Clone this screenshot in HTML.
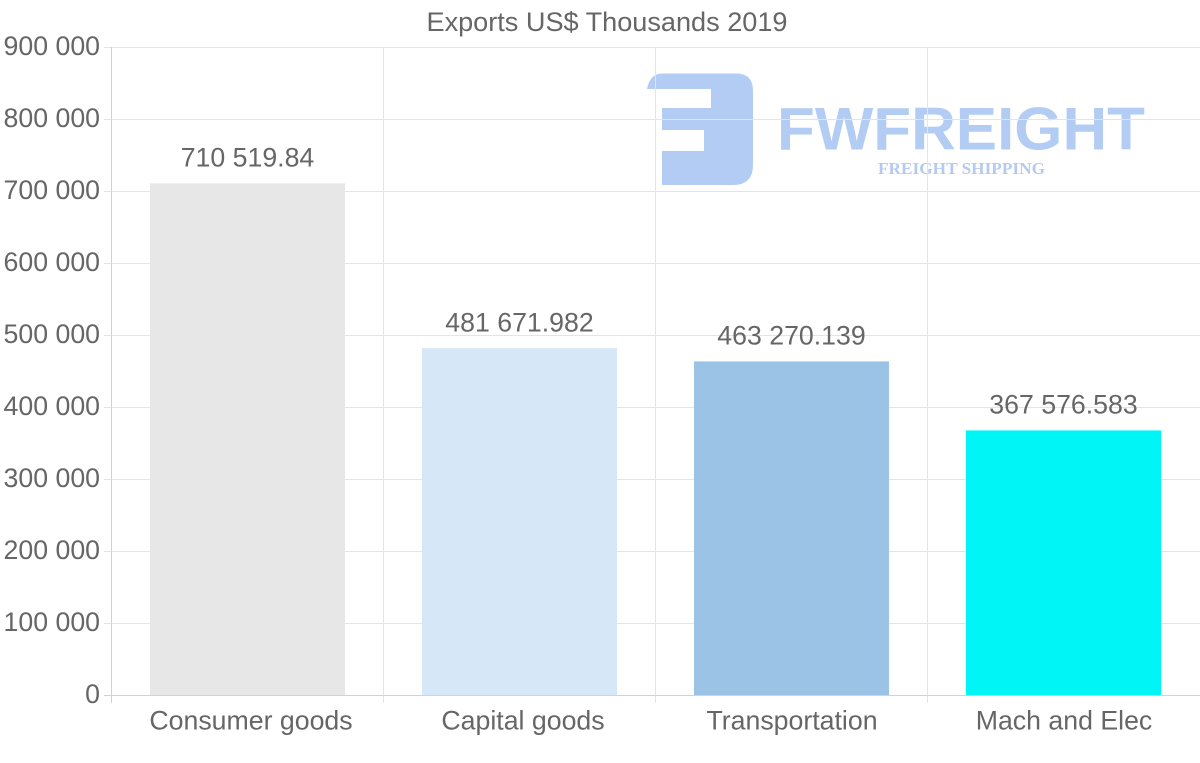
<!DOCTYPE html>
<html><head><meta charset="utf-8"><style>
html,body{margin:0;padding:0;background:#fff;}
svg{display:block;}
text{font-family:"Liberation Sans",Arial,sans-serif;fill:#666;}
</style></head><body>
<svg width="1200" height="763" viewBox="0 0 1200 763" xmlns="http://www.w3.org/2000/svg">
<rect width="1200" height="763" fill="#fff"/>
<!-- logo -->
<path d="M647 89 Q650 73.5 662 73.5 L736 73.5 Q753 73.5 753 91 L753 165 Q753 185 733 185 L662 185 L662 151 L704 151 L704 130 L662 130 L662 108 L711 108 L711 89 Z" fill="#b2ccf3"/>
<text x="777" y="149.5" font-size="60" font-weight="bold" textLength="368" lengthAdjust="spacingAndGlyphs" style="fill:#b2ccf3">FWFREIGHT</text>
<text x="878" y="174" font-size="17" font-weight="bold" textLength="167" lengthAdjust="spacingAndGlyphs" style="font-family:'Liberation Serif',serif;fill:#b4caf0">FREIGHT SHIPPING</text>
<!-- grid -->
<g stroke="#e4e4e4" stroke-width="1">
<line x1="104" y1="47.5" x2="1200" y2="47.5"/>
<line x1="104" y1="119.5" x2="1200" y2="119.5"/>
<line x1="104" y1="191.5" x2="1200" y2="191.5"/>
<line x1="104" y1="263.5" x2="1200" y2="263.5"/>
<line x1="104" y1="335.5" x2="1200" y2="335.5"/>
<line x1="104" y1="407.5" x2="1200" y2="407.5"/>
<line x1="104" y1="479.5" x2="1200" y2="479.5"/>
<line x1="104" y1="551.5" x2="1200" y2="551.5"/>
<line x1="104" y1="623.5" x2="1200" y2="623.5"/>
<line x1="383.5" y1="47" x2="383.5" y2="703"/>
<line x1="655.5" y1="47" x2="655.5" y2="703"/>
<line x1="927.5" y1="47" x2="927.5" y2="703"/>
</g>
<!-- bars -->
<rect x="150" y="183.4" width="195" height="511.6" fill="#e7e7e7"/>
<rect x="422" y="348.2" width="195" height="346.8" fill="#d6e7f8"/>
<rect x="694" y="361.4" width="195" height="333.6" fill="#9bc3e6"/>
<rect x="966" y="430.4" width="195" height="264.6" fill="#00f6f6"/>
<!-- axes -->
<g stroke="#d2d2d2" stroke-width="1">
<line x1="104" y1="695.5" x2="1200" y2="695.5"/>
<line x1="111.5" y1="47" x2="111.5" y2="703"/>
</g>
<!-- title -->
<text x="607" y="31" font-size="27.1" text-anchor="middle">Exports US$ Thousands 2019</text>
<!-- y ticks -->
<g font-size="26.7" text-anchor="end">
<text x="100" y="55">900 000</text>
<text x="100" y="127">800 000</text>
<text x="100" y="199">700 000</text>
<text x="100" y="271">600 000</text>
<text x="100" y="343">500 000</text>
<text x="100" y="415">400 000</text>
<text x="100" y="487">300 000</text>
<text x="100" y="559">200 000</text>
<text x="100" y="631">100 000</text>
<text x="100" y="703">0</text>
</g>
<!-- x labels -->
<g font-size="26.7" text-anchor="middle">
<text x="251" y="729.5">Consumer goods</text>
<text x="523" y="729.5">Capital goods</text>
<text x="792" y="729.5">Transportation</text>
<text x="1064" y="729.5">Mach and Elec</text>
</g>
<!-- value labels -->
<g font-size="26.7" text-anchor="middle">
<text x="247.5" y="166.5">710 519.84</text>
<text x="519.5" y="331.5">481 671.982</text>
<text x="791.5" y="344.5">463 270.139</text>
<text x="1063.5" y="413.5">367 576.583</text>
</g>
</svg>
</body></html>
